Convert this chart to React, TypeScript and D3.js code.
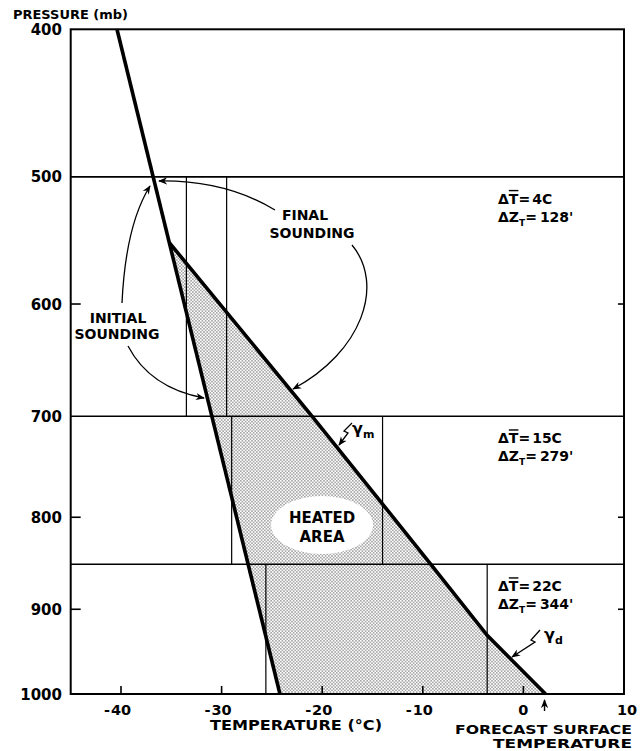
import * as React from 'react'
import * as d3 from 'd3'

// pressure ticks (mb) and temperature ticks (deg C)
const pressureTicks = [400, 500, 600, 700, 800, 900, 1000]
const pressureInnerTicks = [600, 800, 900]
const tempTicks = [-40, -30, -20, -10, 0, 10]
const tempInnerTicks = [-40, -30, -20, -10, 0]

// soundings
const initialSounding = [
  { p: 400, t: -40.4 },
  { p: 1000, t: -24.2 },
]
const finalSounding = [
  { p: 550, t: -35.2 },
  { p: 700, t: -21.0 },
  { p: 850, t: -9.2 },
  { p: 930, t: -3.6 },
  { p: 1000, t: 2.2 },
]
const forecastSurfaceTemp = 2.1

// layers: mean temperature of initial / final sounding
const layerTops = [500, 700, 850]
const layerBottoms = [700, 850, 1000]
const layerInitialMean = [-33.5, -29, -25.6]
const layerFinalMean = [-29.5, -14, -3.6]
const layerDeltaT = ['4C', '15C', '22C']
const layerDeltaZ = ["128'", "279'", "344'"]

const W = 641
const H = 751
const font = '"DejaVu Sans", sans-serif'

const App = () => {
  const x = d3.scaleLinear().domain([-45, 10]).range([70.7, 624])
  const y = d3.scalePow().exponent(0.26).domain([400, 1000]).range([29.3, 694])
  const left = x(-45)
  const right = x(10)
  const top = y(400)
  const bottom = y(1000)

  const line = d3.line<{ p: number; t: number }>()
    .x(d => x(d.t))
    .y(d => y(d.p))

  const heated = [...finalSounding, initialSounding[1]]
  const heatedPath = line(heated) + 'Z'

  return (
    <svg width={W} height={H} style={{ position: 'absolute', left: 0, top: 0, background: '#fff' }}
      fontFamily={font} fontWeight="bold">
      <defs>
        <pattern id="dots" width="3.2" height="3.2" patternUnits="userSpaceOnUse">
          <circle cx="0.8" cy="0.8" r="0.62" fill="#222" />
          <circle cx="2.4" cy="2.4" r="0.62" fill="#222" />
        </pattern>
        <marker id="arr" viewBox="0 0 10 10" refX="9" refY="5" markerWidth="9" markerHeight="9"
          orient="auto-start-reverse" markerUnits="userSpaceOnUse">
          <path d="M0,1 L10,5 L0,9 L3,5 Z" fill="#000" />
        </marker>
      </defs>

      {/* heated area */}
      <path d={heatedPath} fill="url(#dots)" stroke="none" />
      <ellipse cx={322} cy={525} rx={51} ry={29} fill="#fff" />
      <text x={322} y={523} fontSize={15} textAnchor="middle">HEATED</text>
      <text x={322} y={542} fontSize={15} textAnchor="middle">AREA</text>

      {/* layer boundaries */}
      {layerTops.map(p => (
        <line key={p} x1={left} x2={right} y1={y(p)} y2={y(p)} stroke="#000" strokeWidth={1.6} />
      ))}
      {layerTops.map((p, i) => (
        <g key={'v' + p}>
          <line x1={x(layerInitialMean[i])} x2={x(layerInitialMean[i])} y1={y(p)} y2={y(layerBottoms[i])}
            stroke="#000" strokeWidth={1.2} />
          <line x1={x(layerFinalMean[i])} x2={x(layerFinalMean[i])} y1={y(p)} y2={y(layerBottoms[i])}
            stroke="#000" strokeWidth={1.2} />
          <text x={498} y={y(p) + 27} fontSize={14}>
            Δ<tspan textDecoration="overline">T</tspan>=<tspan dx={2}>{layerDeltaT[i]}</tspan>
          </text>
          <text x={498} y={y(p) + 45} fontSize={14}>
            ΔZ<tspan fontSize={9} dy={4}>T</tspan><tspan dy={-4}>=</tspan><tspan dx={3}>{layerDeltaZ[i]}</tspan>
          </text>
        </g>
      ))}

      {/* soundings */}
      <path d={line(initialSounding) || ''} fill="none" stroke="#000" strokeWidth={3.6} />
      <path d={line(finalSounding) || ''} fill="none" stroke="#000" strokeWidth={3.6} />

      {/* frame */}
      <rect x={left} y={top} width={right - left} height={bottom - top} fill="none" stroke="#000" strokeWidth={2} />
      {pressureInnerTicks.map(p => (
        <g key={'pt' + p}>
          <line x1={left} x2={left + 10} y1={y(p)} y2={y(p)} stroke="#000" strokeWidth={1.6} />
          <line x1={right} x2={right - 6} y1={y(p)} y2={y(p)} stroke="#000" strokeWidth={1.6} />
        </g>
      ))}
      {tempInnerTicks.map(t => (
        <line key={'tt' + t} x1={x(t)} x2={x(t)} y1={bottom} y2={bottom - 8} stroke="#000" strokeWidth={1.6} />
      ))}

      {/* axis labels */}
      <text x={13} y={18.5} fontSize={12.5} textLength={115} lengthAdjust="spacingAndGlyphs">PRESSURE (mb)</text>
      {pressureTicks.map(p => (
        <text key={'pl' + p} x={62} y={y(p) + 5.5} fontSize={15} textAnchor="end">{p}</text>
      ))}
      {tempTicks.map(t => (
        <g key={'tl' + t}>
          <text x={x(t) + (t === 10 ? 3 : 0)} y={715} fontSize={14.5} textAnchor="middle">{Math.abs(t)}</text>
          {t < 0 && <text x={x(t) - 11} y={715} fontSize={14.5} textAnchor="end">-</text>}
        </g>
      ))}
      <text x={210} y={730} fontSize={13.5} textLength={172} lengthAdjust="spacingAndGlyphs">TEMPERATURE (°C)</text>
      <text x={632} y={734} fontSize={12.5} textAnchor="end" textLength={177} lengthAdjust="spacingAndGlyphs">FORECAST SURFACE</text>
      <text x={632} y={748} fontSize={12.5} textAnchor="end" textLength={139} lengthAdjust="spacingAndGlyphs">TEMPERATURE</text>
      <line x1={x(forecastSurfaceTemp)} x2={x(forecastSurfaceTemp)} y1={711} y2={700} stroke="#000"
        strokeWidth={1.4} markerEnd="url(#arr)" />

      {/* sounding labels and arrows */}
      <text x={118} y={323} fontSize={14} textAnchor="middle">INITIAL</text>
      <text x={117} y={339} fontSize={14} textAnchor="middle">SOUNDING</text>
      <path d="M122,303 C124,260 132,215 150,186" fill="none" stroke="#000" strokeWidth={1.3} markerEnd="url(#arr)" />
      <path d="M128,346 Q150,388 204,398" fill="none" stroke="#000" strokeWidth={1.3} markerEnd="url(#arr)" />

      <text x={305} y={220} fontSize={14} textAnchor="middle">FINAL</text>
      <text x={312} y={238} fontSize={14} textAnchor="middle">SOUNDING</text>
      <path d="M275,210 Q225,180 159,181" fill="none" stroke="#000" strokeWidth={1.3} markerEnd="url(#arr)" />
      <path d="M352,245 C385,285 362,352 293,389" fill="none" stroke="#000" strokeWidth={1.3} markerEnd="url(#arr)" />

      {/* lapse rate labels */}
      <text x={352} y={434} fontSize={16}>γ<tspan fontSize={11} dy={4}>m</tspan></text>
      <path d="M352,423 L344,431 L348,433 L339,445" fill="none" stroke="#000" strokeWidth={1.3} markerEnd="url(#arr)" />
      <text x={544} y={640} fontSize={16}>γ<tspan fontSize={11} dy={4}>d</tspan></text>
      <path d="M540,630 L531,640 L535,642 L512,657" fill="none" stroke="#000" strokeWidth={1.3} markerEnd="url(#arr)" />
    </svg>
  )
}

export default App
